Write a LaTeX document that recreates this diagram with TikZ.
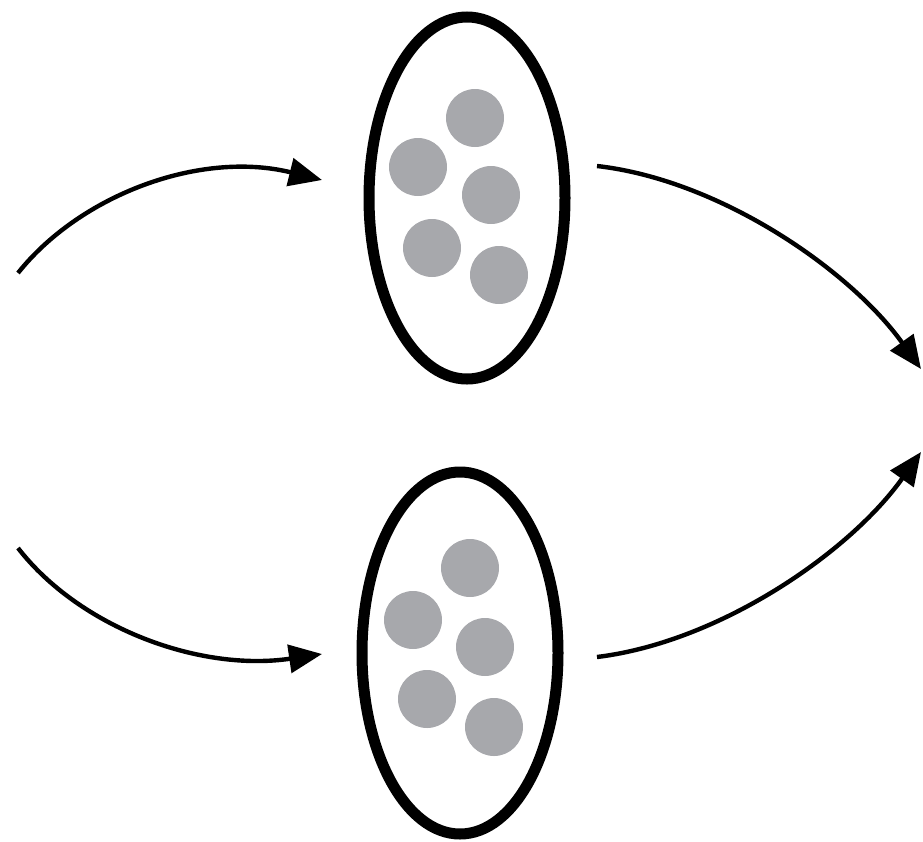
\documentclass[tikz,border=0pt]{standalone}
\usetikzlibrary{shapes.geometric,arrows.meta}
\definecolor{dotgray}{HTML}{A7A8AC}
\begin{document}
\begin{tikzpicture}[x=1pt,y=-1pt,
  cell/.style={draw=black, ellipse, line width=11pt, minimum width=196pt, minimum height=362pt, inner sep=0pt},
  dot/.style={circle, fill=dotgray, minimum size=58pt, inner sep=0pt},
  flow/.style={line width=4.4pt, -{Triangle[length=33pt,width=28pt]}}]
\useasboundingbox (0,0) rectangle (923,841);
% top cell
\node[cell] (e1) at (467,198) {};
\node[dot] (a1) at (475,118) {};
\node[dot] (a2) at (418,167) {};
\node[dot] (a3) at (491,195) {};
\node[dot] (a4) at (432,248) {};
\node[dot] (a5) at (499,275) {};
% bottom cell
\node[cell] (e2) at (460,653) {};
\node[dot] (b1) at (470,568) {};
\node[dot] (b2) at (413,620) {};
\node[dot] (b3) at (485,647) {};
\node[dot] (b4) at (427,699) {};
\node[dot] (b5) at (494,727) {};
% connector ends
\coordinate (s1) at (18,273);
\coordinate (t1) at (322,180);
\coordinate (s2) at (18,548);
\coordinate (t2) at (322,654);
\coordinate (s3) at (597,166);
\coordinate (t3) at (921,369);
\coordinate (s4) at (597,657);
\coordinate (t4) at (921,452);
\draw[flow] (s1) .. controls (80,195) and (200,150) .. (t1);
\draw[flow] (s2) .. controls (80,628) and (200,672) .. (t2);
\draw[flow] (s3) .. controls (720,180) and (850,270) .. (t3);
\draw[flow] (s4) .. controls (720,642) and (850,552) .. (t4);
\end{tikzpicture}
\end{document}
